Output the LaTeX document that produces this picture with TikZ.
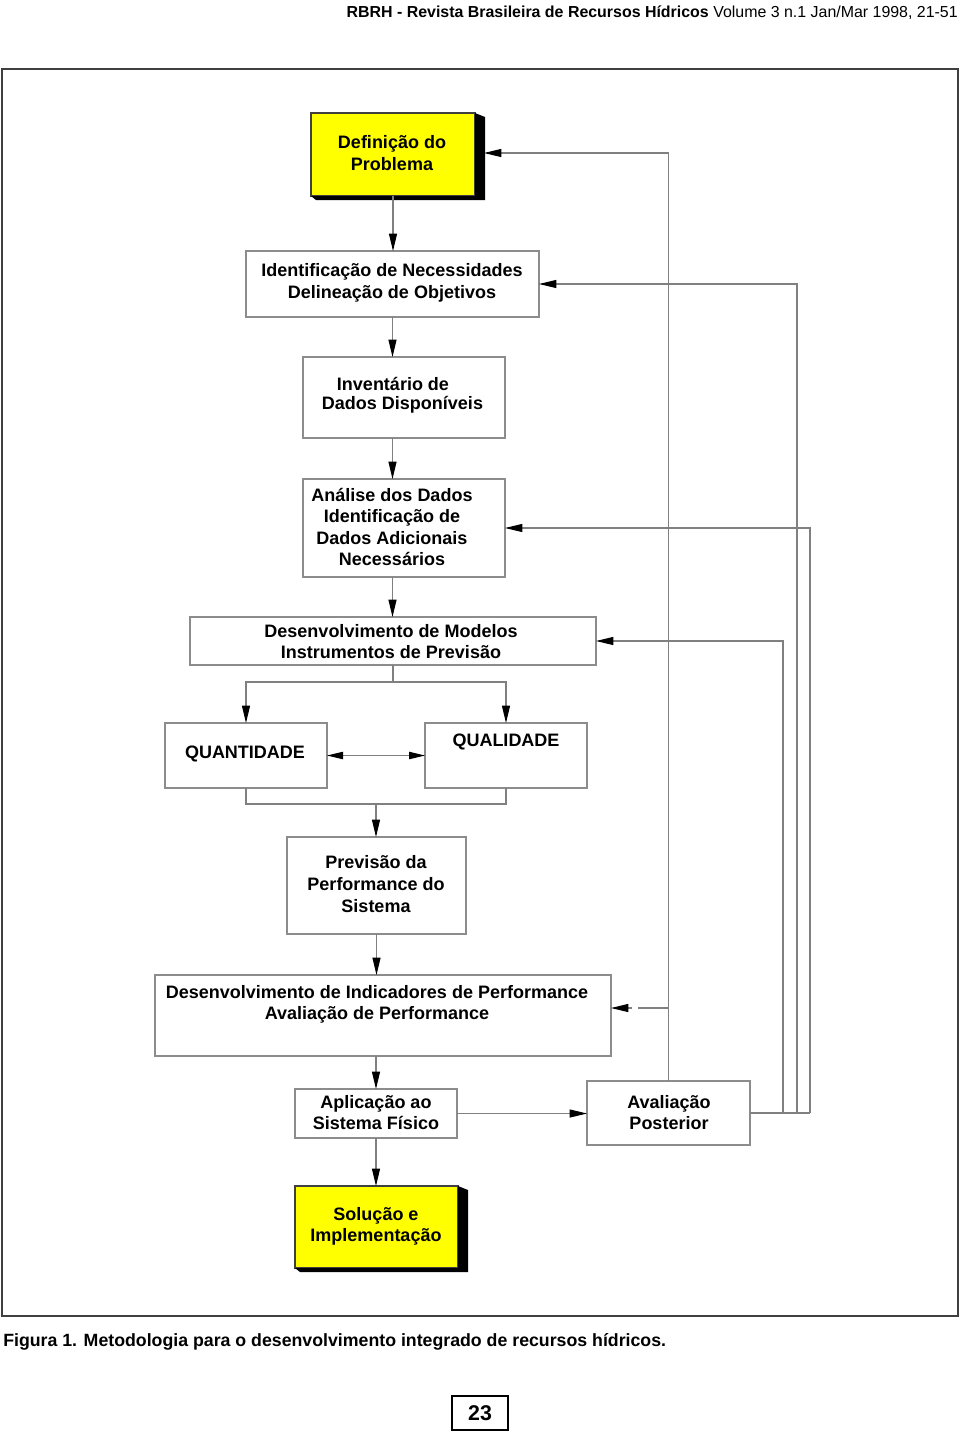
\documentclass[tikz,border=0pt]{standalone}
\usepackage{fontspec}
\setmainfont{Liberation Sans}
\usetikzlibrary{arrows.meta,calc}
\definecolor{linegray}{HTML}{808080}
\definecolor{boxgray}{HTML}{8C8C8C}
\definecolor{framecol}{HTML}{404040}
\definecolor{yel}{HTML}{FFFF00}
\begin{document}
\begin{tikzpicture}[x=0.75pt,y=-0.75pt,
  box/.style={draw=boxgray, line width=0.8pt, inner sep=0pt, outer sep=0pt},
  ybox/.style={box, fill=yel, draw=black!75},
  txt/.style={font=\fontsize{13.5}{16.2}\selectfont\bfseries, align=center, inner sep=0pt},
  conn/.style={draw=linegray, line width=0.8pt},
  arr/.style={conn, -{Triangle[length=13pt,width=6pt,color=black]}},
  darr/.style={conn, {Triangle[length=12pt,width=5.5pt,color=black]}-{Triangle[length=12pt,width=5.5pt,color=black]}}
]
\useasboundingbox (0,0) rectangle (960,1432);
\fill[white] (0,0) rectangle (960,1432);

% header
\node[anchor=base east, inner sep=0pt, font=\fontsize{11.95}{14}\selectfont] (hdr) at (958,17)
  {\textbf{RBRH - Revista Brasileira de Recursos Hídricos} Volume 3 n.1 Jan/Mar 1998, 21-51};

% frame
\draw[framecol, line width=1.2pt] (2,69) rectangle (958,1316);

% boxes
\node[ybox, minimum width=123pt, minimum height=62.25pt] (def) at (393,154.5) {};
\node[box, minimum width=219.75pt, minimum height=49.5pt] (ident) at (392.5,284) {};
\node[box, minimum width=151.5pt, minimum height=60.75pt] (inv) at (404,397.5) {};
\node[box, minimum width=151.5pt, minimum height=73.5pt] (anal) at (404,528) {};
\node[box, minimum width=304.5pt, minimum height=36pt] (model) at (393,641) {};
\node[box, minimum width=121.5pt, minimum height=48.75pt] (quant) at (246,755.5) {};
\node[box, minimum width=121.5pt, minimum height=48.75pt] (qual) at (506,755.5) {};
\node[box, minimum width=134.25pt, minimum height=72.75pt] (prev) at (376.5,885.5) {};
\node[box, minimum width=342pt, minimum height=60.75pt] (indic) at (383,1015.5) {};
\node[box, minimum width=121.5pt, minimum height=36.75pt] (aplic) at (376,1113.5) {};
\node[box, minimum width=122.25pt, minimum height=48pt] (aval) at (668.5,1113) {};
\node[ybox, minimum width=122.25pt, minimum height=61.5pt] (sol) at (376.5,1227) {};

% shadows
\fill[black] (def.north east) -- ++(10,4) -- ([shift={(10,4)}]def.south east) -- ([shift={(5,4)}]def.south west) -- (def.south west) -- (def.south east) -- cycle;
\fill[black] (sol.north east) -- ++(10,4) -- ([shift={(10,4)}]sol.south east) -- ([shift={(5,4)}]sol.south west) -- (sol.south west) -- (sol.south east) -- cycle;

% texts
\node[txt] (defT) at (392,153) {Definição do\\Problema};
\node[txt] (identT) at (392,283) {Identificação de Necessidades\\Delineação de Objetivos};
\node[txt, align=left] (invT) at (402.5,395.5) {\hspace*{11.25pt}Inventário de\\[-2pt]Dados Disponíveis};
\node[txt] (analT) at (392,527) {Análise dos Dados\\Identificação de\\Dados Adicionais\\Necessários};
\node[txt] (modelT) at (391,641.5) {Desenvolvimento de Modelos\\Instrumentos de Previsão};
\node[txt] (quantT) at (245,754) {QUANTIDADE};
\node[txt] (qualT) at (506,742) {QUALIDADE};
\node[txt] (prevT) at (376,884) {Previsão da\\Performance do\\Sistema};
\node[txt] (indicT) at (377,1004.5) {Desenvolvimento de Indicadores de Performance\\Avaliação de Performance};
\node[txt] (aplicT) at (376,1112.5) {Aplicação ao\\Sistema Físico};
\node[txt] (avalT) at (669,1112.5) {Avaliação\\Posterior};
\node[txt] (solT) at (376,1226.5) {Solução e\\Implementação};

% coordinates
\coordinate (mj) at (393,682);
\coordinate (pj) at (376,804);
\coordinate (defsh) at (484,153);
\coordinate (br) at (668.5,1008);
\coordinate (brend) at (638,1008);
\coordinate (brtip) at (632,1008);
\coordinate (r1) at (783,1113);
\coordinate (r2) at (797,1113);
\coordinate (r3) at (810,1113);

% main flow
\draw[arr] (def.south) -- (def.south |- ident.north);
\draw[arr] (ident.south) -- (ident.south |- inv.north);
\draw[arr] (ident.south |- inv.south) -- (ident.south |- anal.north);
\draw[arr] (ident.south |- anal.south) -- (ident.south |- model.north);
\draw[conn] (model.south) -- (mj);
\draw[arr] (mj) -| (quant.north);
\draw[arr] (mj) -| (qual.north);
\draw[darr] (quant.east) -- (qual.west);
\draw[conn] (quant.south) |- (pj) -| (qual.south);
\draw[arr] (pj) -- (pj |- prev.north);
\draw[arr] (prev.south) -- (prev.south |- indic.north);
\draw[arr] (pj |- indic.south) -- (pj |- aplic.north);
\draw[arr] (aplic.south) -- (aplic.south |- sol.north);
\draw[arr] (aplic.east) -- (aplic.east -| aval.west);

% feedback
\draw[arr] (aval.north) -- (aval.north |- defsh) -- (defsh);
\draw[conn] (br) -- (brend);
\draw[arr] (brtip) -- (brtip -| indic.east);
\draw[conn] (aval.east) -- (r3);
\draw[arr] (r2) |- (ident.east);
\draw[arr] (r3) |- (anal.east);
\draw[arr] (r1) |- (model.east);

% caption and page number
\node[anchor=base west, inner sep=0pt, font=\bfseries\fontsize{13.3}{16}\selectfont] (cap) at (3,1346)
  {Figura 1. Metodologia para o desenvolvimento integrado de recursos hídricos.};
\node[draw=black, line width=1.1pt, minimum width=42pt, minimum height=25.5pt, inner sep=0pt,
  font=\bfseries\fontsize{16}{18}\selectfont] (pg) at (480,1413) {23};
\end{tikzpicture}
\end{document}
